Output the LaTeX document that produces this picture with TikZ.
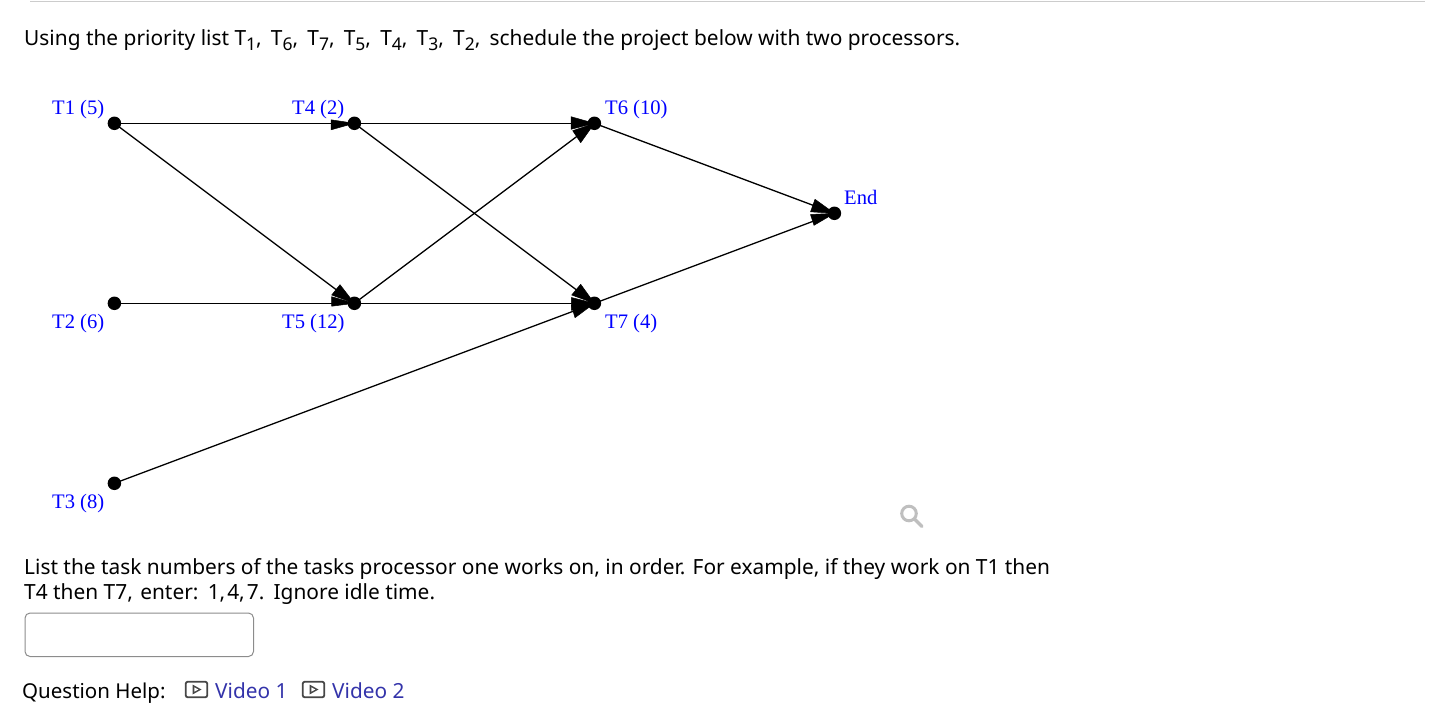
\documentclass[tikz,border=0pt]{standalone}
\usepackage{fontspec}
\setmainfont{Noto Sans}
\newfontfamily\labelfont{Liberation Serif}
\usetikzlibrary{calc}
\definecolor{linkblue}{RGB}{51,51,170}
\definecolor{iconink}{RGB}{70,70,70}
\tikzset{
  x=1pt,y=-1pt,
  dot/.style={circle,fill=black,inner sep=0pt,minimum size=13.5pt},
  tasklabel/.style={text=blue,font=\labelfont\fontsize{20.6}{24}\selectfont,inner sep=0pt,anchor=base west},
  bodytext/.style={text=black,font=\fontsize{20.88}{26}\selectfont,inner sep=0pt,anchor=base west},
  linktext/.style={text=linkblue,font=\fontsize{20.8}{26}\selectfont,inner sep=0pt,anchor=base west},
  edge/.style={draw=black,line width=1.3pt},
  headshape/.style={fill=black,draw=black,line width=0.5pt,line join=round},
  iconbox/.style={draw=iconink,line width=1.8pt,rounded corners=2pt,inner sep=0pt,minimum width=21.5pt,minimum height=15.5pt},
}
\newcommand{\sbs}[1]{\raisebox{-0.28em}{\fontsize{17.5}{17.5}\selectfont #1},\kern 3.8pt\relax}
\newcommand{\widep}[1]{#1\kern 2pt\relax}
\newcommand{\headat}[3]{\path[headshape] (#1.center) -- ($(#1.center)+#2$) -- ($(#1.center)+#3$) -- cycle;}
\newcommand{\playmark}[1]{\fill[iconink] ($(#1)+(-4,-5)$) -- ($(#1)+(5,0)$) -- ($(#1)+(-4,5)$) -- cycle;
  \fill[white] ($(#1)+(-2.2,-2.2)$) -- ($(#1)+(1.8,0)$) -- ($(#1)+(-2.2,2.2)$) -- cycle;}
\begin{document}
\begin{tikzpicture}
\useasboundingbox (0,0) rectangle (1455,702);
\draw[draw=black!20,line width=1pt] (30,1) -- (1425,1);
\node[bodytext] (q) at (24,45) {Using the priority list T\sbs{1} T\sbs{6} T\sbs{7} T\sbs{5} T\sbs{4} T\sbs{3} T\sbs{2} schedule the project below with two processors.};
\node[dot] (t1) at (114.4,123.3) {};
\node[dot] (t4) at (354.4,123.3) {};
\node[dot] (t6) at (594.4,123.3) {};
\node[dot] (t2) at (114.4,303.3) {};
\node[dot] (t5) at (354.4,303.3) {};
\node[dot] (t7) at (594.4,303.3) {};
\node[dot] (t3) at (114.4,483.3) {};
\node[dot] (end) at (834.4,213.3) {};
\foreach \a/\b in {t1/t4,t1/t5,t2/t5,t3/t7,t4/t6,t4/t7,t5/t6,t5/t7,t6/end,t7/end}
  \draw[edge] (\a.center) -- (\b.center);
\headat{t4}{(-23.4,-3.5)}{(-23.4,6.5)}
\headat{t5}{(-14.4,-18.6)}{(-22.7,-8.3)}
\headat{t5}{(-22.7,-6.6)}{(-22.7,2.9)}
\headat{t6}{(-23.4,-6.6)}{(-23.4,6)}
\headat{t6}{(-21.7,7.4)}{(-13.7,19.4)}
\headat{t7}{(-13.7,-19)}{(-22.7,-8.3)}
\headat{t7}{(-23,-5.8)}{(-23,7)}
\headat{t7}{(-19.4,14.4)}{(-23,2)}
\headat{end}{(-19.4,-14)}{(-23.9,-1.5)}
\headat{end}{(-20.4,12)}{(-23.9,1.2)}
\node[tasklabel] (l1) at (52,114) {T1 (5)};
\node[tasklabel] (l4) at (292,114) {T4 (2)};
\node[tasklabel] (l6) at (605,114) {T6 (10)};
\node[tasklabel] (le) at (844,204) {End};
\node[tasklabel] (l2) at (52,328) {T2 (6)};
\node[tasklabel] (l5) at (282,328) {T5 (12)};
\node[tasklabel] (l7) at (605,328) {T7 (4)};
\node[tasklabel] (l3) at (52,508) {T3 (8)};
\coordinate (lens) at (909,513.5);
\draw[draw=black!25,line width=3pt] (lens) circle[radius=7.3pt];
\draw[draw=black!25,line width=3.2pt,line cap=round] ($(lens)+(6,6)$) -- ($(lens)+(13,13)$);
\node[bodytext] (a1) at (24,574) {List the task numbers of the tasks processor one works on, in order. For example, if they work on T1 then};
\node[bodytext] (a2) at (24,599) {T4 then T7\widep{,} enter\widep{:} 1\widep{,}4\widep{,}7\widep{.} Ignore idle time.};
\node[draw=black!45,line width=1pt,rounded corners=5pt,inner sep=0pt,minimum width=228.5pt,minimum height=43.5pt] (box) at (139.25,634.75) {};
\node[bodytext,font=\fontsize{20.5}{26}\selectfont] (help) at (22,698) {Question Help:};
\node[iconbox] (i1) at (196.5,689.5) {};
\playmark{i1.center}
\node[linktext] (v1) at (215,698) {Video 1};
\node[iconbox] (i2) at (313.5,689.5) {};
\playmark{i2.center}
\node[linktext] (v2) at (332,698) {Video 2};
\end{tikzpicture}
\end{document}
